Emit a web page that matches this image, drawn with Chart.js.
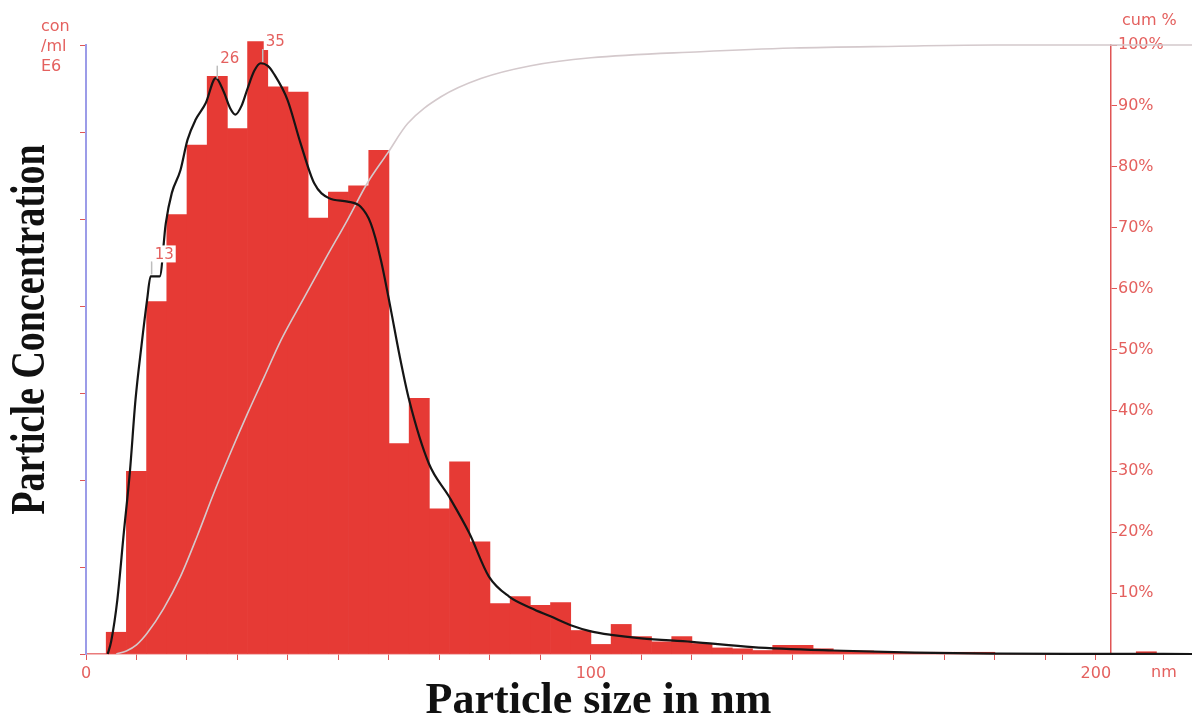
<!DOCTYPE html>
<html>
<head>
<meta charset="utf-8">
<title>Particle size distribution</title>
<script src="https://cdn.jsdelivr.net/npm/chart.js@4.4.1/dist/chart.umd.min.js"></script>
<style>
  html, body { margin: 0; padding: 0; background: #fff; }
  canvas { display: block; }
</style>
</head>
<body>
<canvas id="nta" width="1192" height="722"></canvas>
<script>
// histogram, 4 nm bins (bin centre in nm) -> concentration (E6 con/ml)
const binSize = [6, 10, 14, 18, 22, 26, 30, 34, 38, 42, 46, 50, 54, 58, 62, 66, 70, 74, 78, 82,
  86, 90, 94, 98, 102, 106, 110, 114, 118, 122, 126, 130, 134, 138, 142, 146, 150, 154, 158,
  162, 166, 170, 174, 178, 210];
const binConc = [0.25, 2.10, 4.05, 5.05, 5.85, 6.64, 6.04, 7.04, 6.52, 6.46, 5.01, 5.31, 5.38, 5.79,
  2.42, 2.94, 1.67, 2.21, 1.29, 0.58, 0.66, 0.56, 0.59, 0.27, 0.11, 0.34, 0.20, 0.14, 0.20, 0.12,
  0.07, 0.06, 0.04, 0.10, 0.10, 0.06, 0.04, 0.035, 0.02, 0.02, 0.02, 0.02, 0.02, 0.02, 0.026];

// smoothed distribution (black curve)
const fitSize = [4.3, 5, 6.2, 7.5, 8.7, 9.8, 11, 12.1, 12.8, 14.6, 15.8, 17, 18.7, 20.1, 21.7, 23.7,
  25.7, 27.3, 28.5, 29.6, 30.8, 32, 33.3, 34.6, 36, 37.2, 39.9, 42.5, 45.2, 48.1, 51.8, 54.4, 56.4,
  58.4, 60.4, 62, 64, 67.9, 71.9, 75.9, 79.8, 83.8, 88.1, 92.1, 96, 100, 104, 110, 120, 132, 148,
  164, 181, 200, 220];
const fitConc = [0, 0.15, 0.62, 1.4, 2.1, 2.92, 3.55, 4.07, 4.34, 4.34, 4.95, 5.3, 5.56, 5.91, 6.14, 6.33,
  6.62, 6.46, 6.28, 6.2, 6.3, 6.5, 6.7, 6.79, 6.76, 6.67, 6.37, 5.87, 5.41, 5.24, 5.2, 5.14, 4.95,
  4.53, 3.95, 3.46, 2.92, 2.19, 1.81, 1.39, 0.89, 0.66, 0.53, 0.43, 0.33, 0.26, 0.22, 0.18, 0.14, 0.08, 0.04,
  0.015, 0.005, 0.002, 0];

// cumulative percentage (light line)
const cumSize = [6, 8, 10, 12.1, 15.4, 18.7, 22, 25.3, 28.6, 32, 35.3, 38.6, 43.2, 47.5, 51.8, 55.7,
  59.7, 63.7, 70.3, 78.2, 88.1, 100, 121.7, 140, 161, 180, 220];
const cumPct = [0, 0.5, 1.5, 3.4, 7.5, 12.7, 19.3, 26.4, 33, 39.5, 45.5, 51.5, 58.5, 65, 71.3, 77.3,
  82.2, 87.1, 91.5, 94.5, 96.6, 97.9, 98.9, 99.5, 99.8, 100, 100];

// labelled peaks (nm)
const peakSize = [13, 26, 35];

const xMax = 203;
const concMax = 7;
const redText = '#e4605e';
const redLine = '#e05555';
const barRed = '#e63a35';

function fitAt(v) {
  for (let i = 1; i < fitSize.length; i++) {
    if (v <= fitSize[i]) {
      const t = (v - fitSize[i - 1]) / (fitSize[i] - fitSize[i - 1]);
      return fitConc[i - 1] + t * (fitConc[i] - fitConc[i - 1]);
    }
  }
  return 0;
}

const annotations = {
  id: 'annotations',
  afterDraw(chart) {
    const { ctx, chartArea, scales } = chart;
    const x = scales.x, y = scales.y;
    ctx.save();

    // peak markers
    ctx.font = '15px "DejaVu Sans"';
    ctx.textBaseline = 'bottom';
    ctx.textAlign = 'left';
    peakSize.forEach(p => {
      const px = x.getPixelForValue(p);
      const py = y.getPixelForValue(fitAt(p));
      ctx.strokeStyle = '#bdbdbd';
      ctx.lineWidth = 1.5;
      ctx.beginPath();
      ctx.moveTo(px, py - 2);
      ctx.lineTo(px, py - 15);
      ctx.stroke();
      const label = String(p);
      const w = ctx.measureText(label).width;
      ctx.fillStyle = '#fff';
      ctx.fillRect(px + 1, py - 31, w + 4, 17);
      ctx.fillStyle = redText;
      ctx.fillText(label, px + 3, py - 14);
    });

    // unit captions
    ctx.fillStyle = redText;
    ctx.font = '16px "DejaVu Sans"';
    ctx.textBaseline = 'alphabetic';
    ctx.textAlign = 'left';
    ['con', '/ml', 'E6'].forEach((t, i) => {
      ctx.fillText(t, chartArea.left - 45, 31 + i * 20);
    });
    ctx.fillText('cum %', chartArea.right + 11, 25);
    ctx.textBaseline = 'top';
    ctx.fillText('nm', chartArea.right + 40, chartArea.bottom + 11);

    // y title
    ctx.fillStyle = '#111';
    ctx.font = 'bold 38px "Liberation Serif"';
    ctx.textAlign = 'center';
    ctx.textBaseline = 'middle';
    ctx.translate(31, (chartArea.top + chartArea.bottom) / 2 - 20);
    ctx.rotate(-Math.PI / 2);
    ctx.scale(1, 1.3);
    ctx.fillText('Particle Concentration', 0, 0);
    ctx.restore();
  }
};

new Chart(document.getElementById('nta'), {
  data: {
    datasets: [
      {
        type: 'line',
        label: 'fit',
        data: fitSize.map((s, i) => ({ x: s, y: fitConc[i] })),
        yAxisID: 'y',
        borderColor: '#151515',
        borderWidth: 2.2,
        pointRadius: 0,
        cubicInterpolationMode: 'monotone',
        clip: false,
        order: 1
      },
      {
        type: 'line',
        label: 'cum %',
        data: cumSize.map((s, i) => ({ x: s, y: cumPct[i] })),
        yAxisID: 'cum',
        borderColor: '#d4c9cc',
        borderWidth: 1.6,
        pointRadius: 0,
        cubicInterpolationMode: 'monotone',
        clip: false,
        order: 2
      },
      {
        type: 'bar',
        label: 'con/ml',
        data: binSize.map((s, i) => ({ x: s, y: binConc[i] })),
        yAxisID: 'y',
        backgroundColor: barRed,
        borderWidth: 0,
        barPercentage: 1,
        categoryPercentage: 1,
        clip: false,
        order: 3
      }
    ]
  },
  options: {
    responsive: false,
    animation: false,
    layout: { padding: { top: 45 } },
    plugins: {
      legend: { display: false },
      tooltip: { enabled: false }
    },
    scales: {
      x: {
        type: 'linear',
        min: 0,
        max: xMax,
        offset: false,
        afterFit: s => { s.height = 68; },
        grid: { offset: false, drawOnChartArea: false, tickLength: 6, tickColor: redLine, color: redLine },
        border: { color: '#ea7b7b', width: 1.5 },
        ticks: {
          stepSize: 10,
          includeBounds: false,
          autoSkip: false,
          maxRotation: 0,
          padding: 4,
          color: redText,
          font: { family: 'DejaVu Sans', size: 16 },
          callback: v => (v % 100 === 0 ? String(v) : '')
        },
        title: {
          display: true,
          text: 'Particle size in nm',
          color: '#111',
          font: { family: 'Liberation Serif', size: 44, weight: 'bold' },
          padding: { top: 0, bottom: -6 }
        }
      },
      y: {
        position: 'left',
        min: 0,
        max: concMax,
        afterFit: s => { s.width = 86; },
        grid: { drawOnChartArea: false, tickLength: 6, tickColor: redLine, color: redLine },
        border: { color: '#9c9ce8', width: 2 },
        ticks: { stepSize: 1, display: false }
      },
      cum: {
        position: 'right',
        min: 0,
        max: 100,
        afterFit: s => { s.width = 81; },
        grid: { drawOnChartArea: false, tickLength: 6, tickColor: redLine, color: redLine },
        border: { color: redLine, width: 1.5 },
        ticks: {
          stepSize: 10,
          padding: 1,
          color: redText,
          font: { family: 'DejaVu Sans', size: 16 },
          callback: v => (v ? v + '%' : '')
        }
      }
    }
  },
  plugins: [annotations]
});
</script>
</body>
</html>
